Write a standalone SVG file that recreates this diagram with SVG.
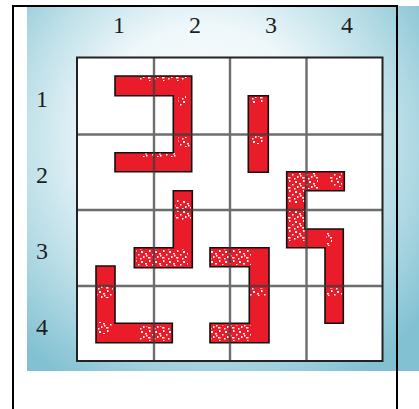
<svg xmlns="http://www.w3.org/2000/svg" width="419" height="409" viewBox="0 0 419 409">
  <defs>
    <radialGradient id="bg" gradientUnits="userSpaceOnUse" cx="210" cy="150" r="270" fx="200" fy="120">
      <stop offset="0" stop-color="#ffffff"/>
      <stop offset="0.4" stop-color="#eef7fa"/>
      <stop offset="0.7" stop-color="#bcdfe8"/>
      <stop offset="1" stop-color="#82c1d2"/>
    </radialGradient>
    <pattern id="speck" width="14" height="10" patternUnits="userSpaceOnUse">
      <rect x="1" y="1" width="2" height="2" fill="#fff"/>
      <rect x="5" y="3" width="2" height="1.5" fill="#fff"/>
      <rect x="9" y="0" width="1.5" height="2" fill="#fff"/>
      <rect x="3" y="6" width="1.5" height="2" fill="#fff"/>
      <rect x="8" y="7" width="2.5" height="1.5" fill="#fff"/>
      <rect x="12" y="4" width="1.5" height="1.5" fill="#fff"/>
      <rect x="0" y="8" width="1.5" height="1.5" fill="#fff"/>
      <rect x="6" y="5" width="1.5" height="1.5" fill="#fff"/>
    </pattern>
  </defs>
  <style>
    .num { font-family: "Liberation Serif", "Times New Roman", serif; font-size: 24px; fill: #1e1e1e; text-anchor: middle; }
    .grid { stroke: #3c3c3c; stroke-width: 2.4; stroke-opacity: 0.75; fill: none; }
    .shape { fill: #ea1c2a; }
    .outline { fill: none; stroke: #111; stroke-width: 1.6; }
    .sp { fill: url(#speck); }
  </style>
  <rect x="0" y="0" width="419" height="409" fill="#ffffff"/>
  <rect x="27" y="6" width="392" height="365" fill="url(#bg)"/>

  <g id="column-labels">
    <text class="num" x="119" y="33">1</text>
    <text class="num" x="195" y="33">2</text>
    <text class="num" x="271" y="33">3</text>
    <text class="num" x="347" y="33">4</text>
  </g>
  <g id="row-labels">
    <text class="num" x="42" y="107">1</text>
    <text class="num" x="42" y="183">2</text>
    <text class="num" x="42" y="259">3</text>
    <text class="num" x="42" y="335">4</text>
  </g>

  <rect id="board" x="77" y="57.5" width="305.5" height="303.5" fill="#ffffff"/>

  <g id="pieces">
    <path id="piece-bracket" class="shape" d="M115,76H191.7V171.7H115V152.7H173.3V95.7H115Z"/>
    <path id="piece-bar" class="shape" d="M248.3,95.7H268.3V172.3H248.3Z"/>
    <path id="piece-s" class="shape" d="M286.7,171.7H344.3V190.7H305V229H343.3V323.3H325V247.7H286.7Z"/>
    <path id="piece-j" class="shape" d="M173.3,190.7H192.3V267.7H134.3V247.7H173.3Z"/>
    <path id="piece-l" class="shape" d="M96,266H115V323.3H172.3V342.7H96Z"/>
    <path id="piece-c" class="shape" d="M210,247.7H269V342.7H210V323.3H249.3V266.7H210Z"/>
  </g>

  <g id="speckles">
    <rect class="sp" x="140" y="77" width="50" height="4"/>
    <rect class="sp" x="178" y="96" width="8" height="10"/>
    <rect class="sp" x="178" y="137" width="12" height="10"/>
    <rect class="sp" x="140" y="153" width="40" height="4"/>
    <rect class="sp" x="250" y="97" width="16" height="6"/>
    <rect class="sp" x="250" y="136" width="16" height="8"/>
    <rect class="sp" x="288" y="173" width="18" height="30"/>
    <rect class="sp" x="306" y="173" width="12" height="16"/>
    <rect class="sp" x="330" y="173" width="12" height="14"/>
    <rect class="sp" x="288" y="211" width="18" height="30"/>
    <rect class="sp" x="326" y="232" width="6" height="14"/>
    <rect class="sp" x="326" y="288" width="16" height="8"/>
    <rect class="sp" x="175" y="200" width="16" height="20"/>
    <rect class="sp" x="136" y="249" width="52" height="17"/>
    <rect class="sp" x="211" y="249" width="40" height="16"/>
    <rect class="sp" x="250" y="288" width="16" height="8"/>
    <rect class="sp" x="211" y="325" width="40" height="16"/>
    <rect class="sp" x="97" y="286" width="16" height="12"/>
    <rect class="sp" x="98" y="322" width="14" height="12"/>
    <rect class="sp" x="140" y="326" width="31" height="15"/>
  </g>

  <g id="outlines">
    <path class="outline" d="M115,76H191.7V171.7H115V152.7H173.3V95.7H115Z"/>
    <path class="outline" d="M248.3,95.7H268.3V172.3H248.3Z"/>
    <path class="outline" d="M286.7,171.7H344.3V190.7H305V229H343.3V323.3H325V247.7H286.7Z"/>
    <path class="outline" d="M173.3,190.7H192.3V267.7H134.3V247.7H173.3Z"/>
    <path class="outline" d="M96,266H115V323.3H172.3V342.7H96Z"/>
    <path class="outline" d="M210,247.7H269V342.7H210V323.3H249.3V266.7H210Z"/>
  </g>

  <g id="grid">
    <path class="grid" d="M154,57.5V361 M230,57.5V361 M306.5,57.5V361 M77,134.5H382.5 M77,210H382.5 M77,286H382.5"/>
    <rect x="77" y="57.5" width="305.5" height="303.5" fill="none" stroke="#222" stroke-width="2"/>
  </g>

  <g id="frame" fill="none" stroke="#000" stroke-width="2">
    <path d="M13,409V6H397V409"/>
  </g>
</svg>
